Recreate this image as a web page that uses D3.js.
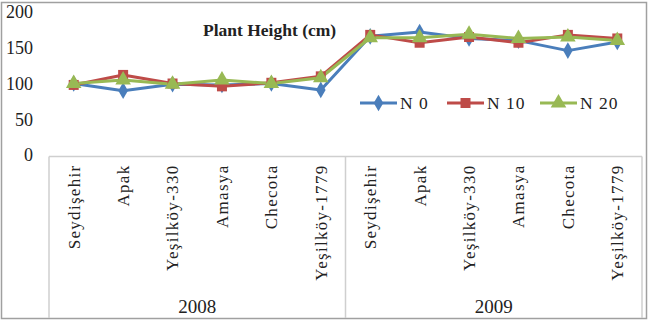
<!DOCTYPE html>
<html>
<head>
<meta charset="utf-8">
<script src="https://cdn.jsdelivr.net/npm/d3@7"></script>
<style>
  body { margin: 0; background: #fff; }
  svg text { font-family: "Liberation Serif", "DejaVu Serif", serif; fill: #222; }
</style>
</head>
<body>
<div id="chart"></div>
<script>
// data
const years = ["2008", "2009"];
const cultivars = ["Seydişehir", "Apak", "Yeşilköy-330", "Amasya", "Checota", "Yeşilköy-1779"];
const seriesNames = ["N 0", "N 10", "N 20"];
const n0  = [100, 90, 99, 98, 100, 91, 166, 172, 163, 160, 146, 158];
const n10 = [98, 112, 100, 96, 101, 110, 168, 157, 165, 157, 168, 163];
const n20 = [100, 105, 99, 105, 100, 108, 164, 164, 169, 163, 165, 160];
const yTicks = [0, 50, 100, 150, 200];

const colors = ["#4a7ebb", "#be4b48", "#98b954"];
const symbols = [d3.symbolDiamond, d3.symbolSquare, d3.symbolTriangle];
const symSizes = [80, 100, 105];

// one key per category, grouped by year
const keys = [];
years.forEach(yr => cultivars.forEach(c => keys.push(yr + "|" + c)));
const series = [n0, n10, n20].map((vals, i) => ({ name: seriesNames[i], values: vals }));

const W = 660, H = 321;
const svg = d3.select("#chart").append("svg")
    .attr("width", W)
    .attr("height", H);

// outer frame
svg.append("rect")
    .attr("x", 1.5).attr("y", 2.5)
    .attr("width", 645).attr("height", 316)
    .attr("fill", "#fff")
    .attr("stroke", "#a0a0a0")
    .attr("stroke-width", 1.5);

// scales
const x = d3.scaleBand().domain(keys).range([49, 642]).padding(0);
const y = d3.scaleLinear().domain([0, 200]).range([155, 12]);
const cx = k => x(k) + x.bandwidth() / 2;

// y axis (labels only)
const yAxis = svg.append("g")
    .attr("transform", "translate(33,0)")
    .call(d3.axisLeft(y).tickValues(yTicks).tickSize(0).tickPadding(0));
yAxis.select(".domain").remove();
yAxis.selectAll("text")
    .style("font-size", "18px")
    .style("font-family", "'Liberation Serif', serif")
    .attr("fill", "#222");

// category axis box
const axisTop = 156.5, axisBottom = 318;
const boxColor = "#cfcfcf";
svg.append("line")
    .attr("x1", x.range()[0]).attr("x2", x.range()[1])
    .attr("y1", axisTop).attr("y2", axisTop)
    .attr("stroke", boxColor).attr("stroke-width", 1.5);

const bounds = years.map(yr => x(yr + "|" + cultivars[0])).concat([x.range()[1]]);
svg.selectAll(".sep")
    .data(bounds)
    .join("line")
    .attr("class", "sep")
    .attr("x1", d => d).attr("x2", d => d)
    .attr("y1", axisTop).attr("y2", axisBottom)
    .attr("stroke", boxColor).attr("stroke-width", 1.5);

// cultivar labels, rotated
const xAxis = svg.append("g")
    .attr("transform", `translate(0,${axisTop})`)
    .call(d3.axisBottom(x).tickSize(0).tickFormat(d => d.split("|")[1]));
xAxis.select(".domain").remove();
xAxis.selectAll("text")
    .attr("transform", "rotate(-90)")
    .attr("x", -8)
    .attr("y", 0)
    .attr("dy", "0.35em")
    .style("text-anchor", "end")
    .style("font-size", "17px")
    .style("letter-spacing", "1.3px")
    .style("font-family", "'Liberation Serif', serif")
    .attr("fill", "#222");

// year labels
svg.selectAll(".year")
    .data(years)
    .join("text")
    .attr("class", "year")
    .attr("x", (d, i) => (bounds[i] + bounds[i + 1]) / 2)
    .attr("y", 313)
    .attr("text-anchor", "middle")
    .style("font-size", "19px")
    .text(d => d);

// title
svg.append("text")
    .attr("x", 203)
    .attr("y", 36)
    .style("font-size", "17.5px")
    .style("font-weight", "bold")
    .text("Plant Height (cm)");

// lines and markers
const line = d3.line()
    .x((d, i) => cx(keys[i]))
    .y(d => y(d));

series.forEach((s, si) => {
    svg.append("path")
        .datum(s.values)
        .attr("fill", "none")
        .attr("stroke", colors[si])
        .attr("stroke-width", 3)
        .attr("stroke-linejoin", "round")
        .attr("d", line);
});
series.forEach((s, si) => {
    svg.append("g").selectAll("path")
        .data(s.values)
        .join("path")
        .attr("transform", (d, i) => `translate(${cx(keys[i])},${y(d)})`)
        .attr("d", d3.symbol().type(symbols[si]).size(symSizes[si]))
        .attr("fill", colors[si]);
});

// legend
const legendX = [360, 447, 540];
const legendY = 103;
const lg = svg.append("g").selectAll("g")
    .data(series)
    .join("g")
    .attr("transform", (d, i) => `translate(${legendX[i]},${legendY})`);
lg.append("line")
    .attr("x1", 0).attr("x2", 37)
    .attr("stroke", (d, i) => colors[i])
    .attr("stroke-width", 3);
lg.append("path")
    .attr("transform", "translate(18.5,0)")
    .attr("d", (d, i) => d3.symbol().type(symbols[i]).size(symSizes[i])())
    .attr("fill", (d, i) => colors[i]);
lg.append("text")
    .attr("x", 40)
    .attr("dy", "0.35em")
    .style("font-size", "17.5px")
    .style("letter-spacing", "1px")
    .text(d => d.name);
</script>
</body>
</html>
